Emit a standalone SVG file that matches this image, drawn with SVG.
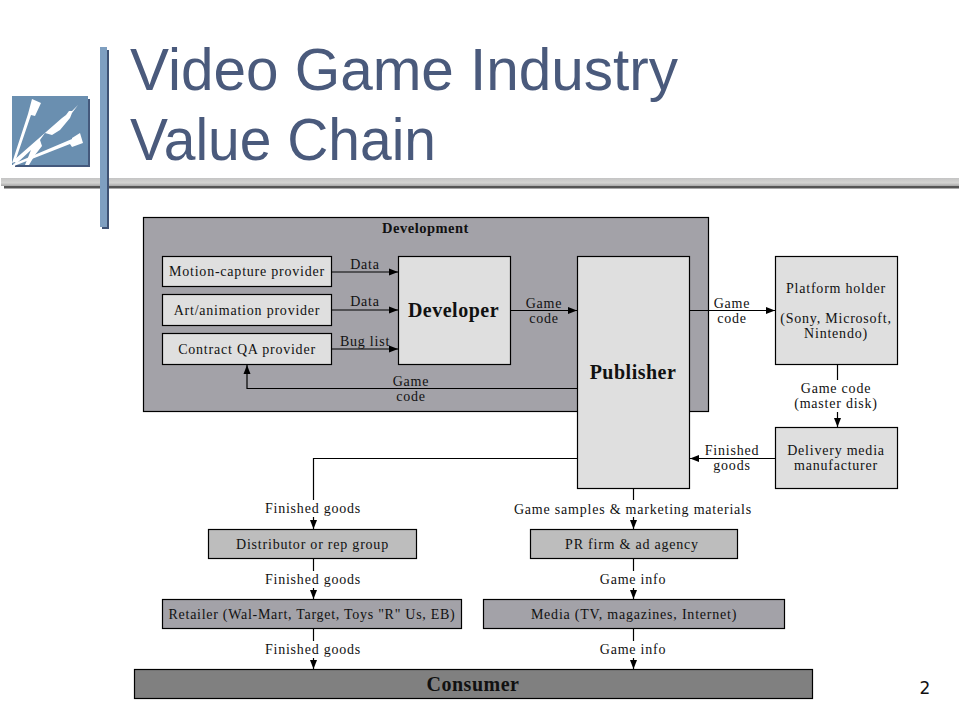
<svg xmlns="http://www.w3.org/2000/svg" width="960" height="720" viewBox="0 0 960 720">
<defs>
<marker id="arr" markerUnits="userSpaceOnUse" markerWidth="10" markerHeight="10" refX="9" refY="4" orient="auto"><path d="M0,0.500 L9,4 L0,7.500 Z" fill="#000"/></marker>
<linearGradient id="bar" x1="0" y1="0" x2="0" y2="1"><stop offset="0" stop-color="#c4c4c4"/><stop offset="0.6" stop-color="#d4d4d2"/><stop offset="1" stop-color="#a8a8a8"/></linearGradient>
</defs>
<style>
text{font-family:"Liberation Serif","DejaVu Serif",serif;font-size:14px;fill:#111;text-anchor:middle;letter-spacing:.78px}
.t{font-family:"Liberation Sans","Noto Sans",sans-serif;font-size:60px;fill:#4a5a7c;text-anchor:start;letter-spacing:0}
.b{font-weight:bold;font-size:20px;letter-spacing:.5px}
.d{font-weight:bold;font-size:14.500px;letter-spacing:.5px}
.n{stroke:#000;stroke-width:1.200}
.l{fill:#dfdfdf}.m{fill:#bdbdbd}.k{fill:#a3a2a8}.c{fill:#808080}
.w{fill:none;stroke:#000;stroke-width:1.200}
.a{marker-end:url(#arr)}
</style>
<g id="decor">
<rect x="4" y="184" width="955" height="4.500" fill="#555"/>
<rect x="1" y="178" width="958" height="8" fill="url(#bar)"/>
<rect x="102" y="50" width="7" height="179" fill="#3f5273"/>
<rect x="100" y="47" width="7" height="180" fill="#7f9fc0"/>
<rect x="15" y="99" width="75" height="68" fill="#44597c"/>
<rect x="12" y="96" width="76" height="69" fill="#6a8fb0"/>
<path d="M32,99 L41,103 L35,116 L31,115 L15,162 L12,163 L28,114 Z" fill="#fff"/>
<path d="M13,164 L72,139 L72,138 L80,133 L83,143 L72,147 L70,144 L14,166 Z" fill="#fff"/>
<path d="M14,160 L62,118 L66,115 L69,111 L72,111 L78,105 L72,113 L70,118 L60,130 L52,135 L45,133 L40,140 L42,146 L35,155 L29,165 L25,165 L31,150 L16,164 Z" fill="#fff"/>
</g>
<text class="t" x="130" y="90" textLength="548" lengthAdjust="spacingAndGlyphs">Video Game Industry</text>
<text class="t" x="130" y="160" textLength="306" lengthAdjust="spacingAndGlyphs">Value Chain</text>
<g id="development"><rect class="n k" x="143.500" y="217.500" width="565" height="194"/><text class="d" x="425.500" y="233">Development</text></g>
<g id="motion"><rect class="n l" x="162.500" y="256.500" width="169" height="30"/><text x="247" y="276">Motion-capture provider</text></g>
<g id="art"><rect class="n l" x="162.500" y="294.500" width="169" height="31"/><text x="247" y="315">Art/animation provider</text></g>
<g id="qa"><rect class="n l" x="162.500" y="333.500" width="169" height="31"/><text x="247" y="354">Contract QA provider</text></g>
<g id="developer"><rect class="n l" x="398.500" y="256.500" width="112" height="108"/><text class="b" x="453.500" y="317">Developer</text></g>
<g id="publisher"><rect class="n l" x="577.500" y="256.500" width="112" height="232"/><text class="b" x="633" y="379">Publisher</text></g>
<g id="platform"><rect class="n l" x="775.500" y="256.500" width="122" height="108"/><text x="836" y="293">Platform holder</text><text x="836" y="323">(Sony, Microsoft,</text><text x="836" y="338">Nintendo)</text></g>
<g id="delivery"><rect class="n l" x="775.500" y="427.500" width="122" height="61"/><text x="836" y="455">Delivery media</text><text x="836" y="470">manufacturer</text></g>
<g id="distributor"><rect class="n m" x="208.500" y="529.500" width="208" height="29"/><text x="312.500" y="549">Distributor or rep group</text></g>
<g id="pr"><rect class="n m" x="530.500" y="529.500" width="207" height="29"/><text x="632" y="549">PR firm &amp; ad agency</text></g>
<g id="retailer"><rect class="n k" x="162.500" y="599.500" width="299" height="29"/><text x="312" y="619" style="letter-spacing:.72px">Retailer (Wal-Mart, Target, Toys "R" Us, EB)</text></g>
<g id="media"><rect class="n k" x="483.500" y="599.500" width="301" height="29"/><text x="634" y="619">Media (TV, magazines, Internet)</text></g>
<g id="consumer"><rect class="n c" x="134.500" y="669.500" width="678" height="29"/><text class="b" x="473" y="691">Consumer</text></g>
<g id="connectors">
<path class="w a" d="M332,272H398"/>
<path class="w a" d="M332,310H398"/>
<path class="w a" d="M332,349H398"/>
<path class="w a" d="M577,388.500H247V365"/>
<path class="w a" d="M511,310.500H577"/>
<path class="w a" d="M690,310.500H775"/>
<path class="w a" d="M837.500,365V427"/>
<path class="w a" d="M775,458.500H690"/>
<path class="w a" d="M577,458.500H313.500V529"/>
<path class="w a" d="M633.500,489V529"/>
<path class="w a" d="M313.500,559V599"/>
<path class="w a" d="M633.500,559V599"/>
<path class="w a" d="M313.500,629V669"/>
<path class="w a" d="M633.500,629V669"/>
</g>
<g id="labels">
<rect x="795" y="380" width="84" height="32" fill="#fff"/>
<rect x="262" y="500" width="102" height="17" fill="#fff"/>
<rect x="512" y="500" width="242" height="17" fill="#fff"/>
<rect x="262" y="571" width="102" height="17" fill="#fff"/>
<rect x="598" y="571" width="70" height="17" fill="#fff"/>
<rect x="262" y="641" width="102" height="17" fill="#fff"/>
<rect x="598" y="641" width="70" height="17" fill="#fff"/>
<text x="365" y="269">Data</text><text x="365" y="306">Data</text><text x="365" y="346">Bug list</text>
<text x="411" y="386">Game</text><text x="411" y="401">code</text>
<text x="544" y="308">Game</text><text x="544" y="323">code</text>
<text x="732" y="308">Game</text><text x="732" y="323">code</text>
<text x="836" y="393">Game code</text><text x="836" y="408">(master disk)</text>
<text x="732" y="455">Finished</text><text x="732" y="470">goods</text>
<text x="313" y="513">Finished goods</text>
<text x="633" y="514">Game samples &amp; marketing materials</text>
<text x="313" y="584">Finished goods</text><text x="633" y="584">Game info</text>
<text x="313" y="654">Finished goods</text><text x="633" y="654">Game info</text>
</g>
<text x="925" y="694" style="font-family:'DejaVu Sans',sans-serif;font-size:17px;letter-spacing:0">2</text>
</svg>
